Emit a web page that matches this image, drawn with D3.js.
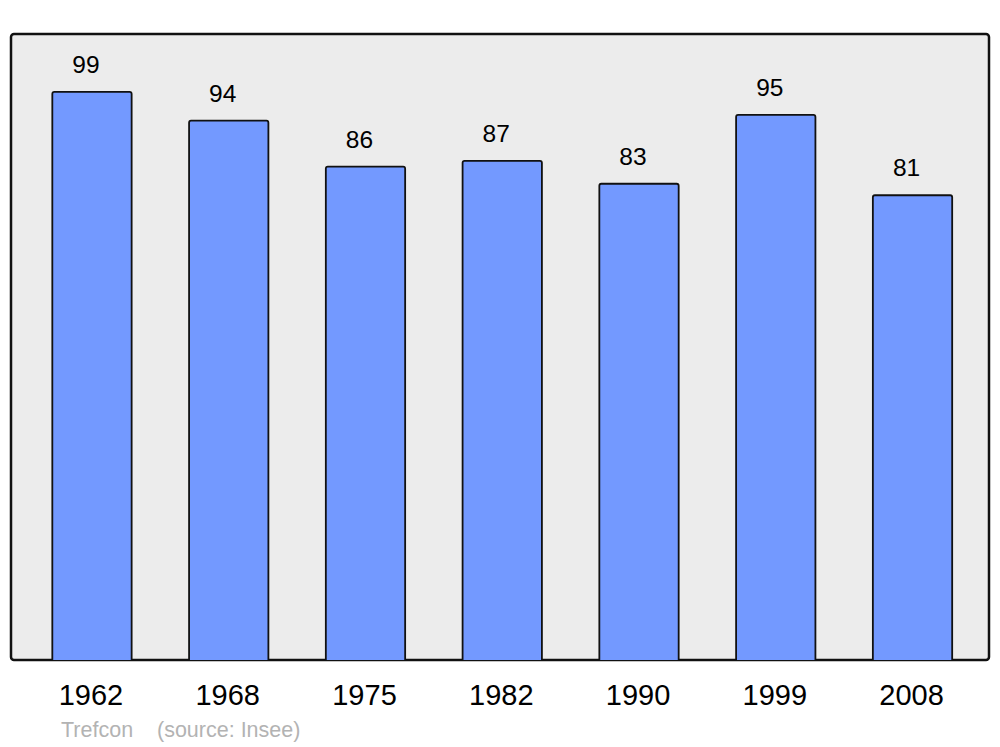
<!DOCTYPE html>
<html><head><meta charset="utf-8">
<script src="https://cdn.jsdelivr.net/npm/d3@7"></script>
<style>body{margin:0;background:#fff;}svg{display:block;font-family:"Liberation Sans",Arial,sans-serif;}</style>
</head><body>
<script>
const years = ["1962","1968","1975","1982","1990","1999","2008"];
const population = [99,94,86,87,83,95,81];
const creditLabel = "Trefcon";
const sourceLabel = "(source: Insee)";

const W = 1000, H = 747;
const svg = d3.select("body").append("svg").attr("width", W).attr("height", H);

const panel = {x0: 11, x1: 989, y0: 34, y1: 660};
svg.append("rect")
  .attr("x", panel.x0).attr("y", panel.y0)
  .attr("width", panel.x1 - panel.x0).attr("height", panel.y1 - panel.y0)
  .attr("rx", 3).attr("fill", "#ececec").attr("stroke", "#111").attr("stroke-width", 2.5);

const x = d3.scaleBand().domain(years).range([23.6, 980.9]).paddingInner(0.42).paddingOuter(0.21);
const y = d3.scaleLinear().domain([0, 109.1]).range([panel.y1, panel.y0]);

const data = years.map((yr, i) => ({yr, v: population[i]}));

svg.append("g").selectAll("path").data(data).enter().append("path")
  .attr("d", d => {
    const x0 = x(d.yr), w = x.bandwidth(), top = y(d.v), bot = y(0), r = 2;
    return `M${x0},${bot}V${top + r}Q${x0},${top} ${x0 + r},${top}H${x0 + w - r}Q${x0 + w},${top} ${x0 + w},${top + r}V${bot}`;
  })
  .attr("fill", "#7399ff").attr("stroke", "#111").attr("stroke-width", 1.8);

svg.append("g").selectAll("text").data(data).enter().append("text")
  .attr("x", d => x(d.yr) + x.bandwidth() / 2 - 6)
  .attr("y", d => y(d.v) - 19)
  .attr("text-anchor", "middle").attr("font-size", 24.5).attr("fill", "#000")
  .text(d => d.v);

const xAxis = d3.axisBottom(x).tickSize(0).tickPadding(0);
const gx = svg.append("g").attr("transform", `translate(-1,${panel.y1})`).call(xAxis);
gx.select(".domain").remove();
gx.selectAll("text").attr("font-size", 29).attr("fill", "#000")
  .attr("font-family", "Liberation Sans, Arial, sans-serif").attr("dy", null).attr("y", 45);

svg.append("text").attr("x", 61).attr("y", 737).attr("font-size", 21.5).attr("fill", "#b3b3b3").text(creditLabel);
svg.append("text").attr("x", 157).attr("y", 737).attr("font-size", 21.5).attr("fill", "#b3b3b3").text(sourceLabel);
</script>
</body></html>
